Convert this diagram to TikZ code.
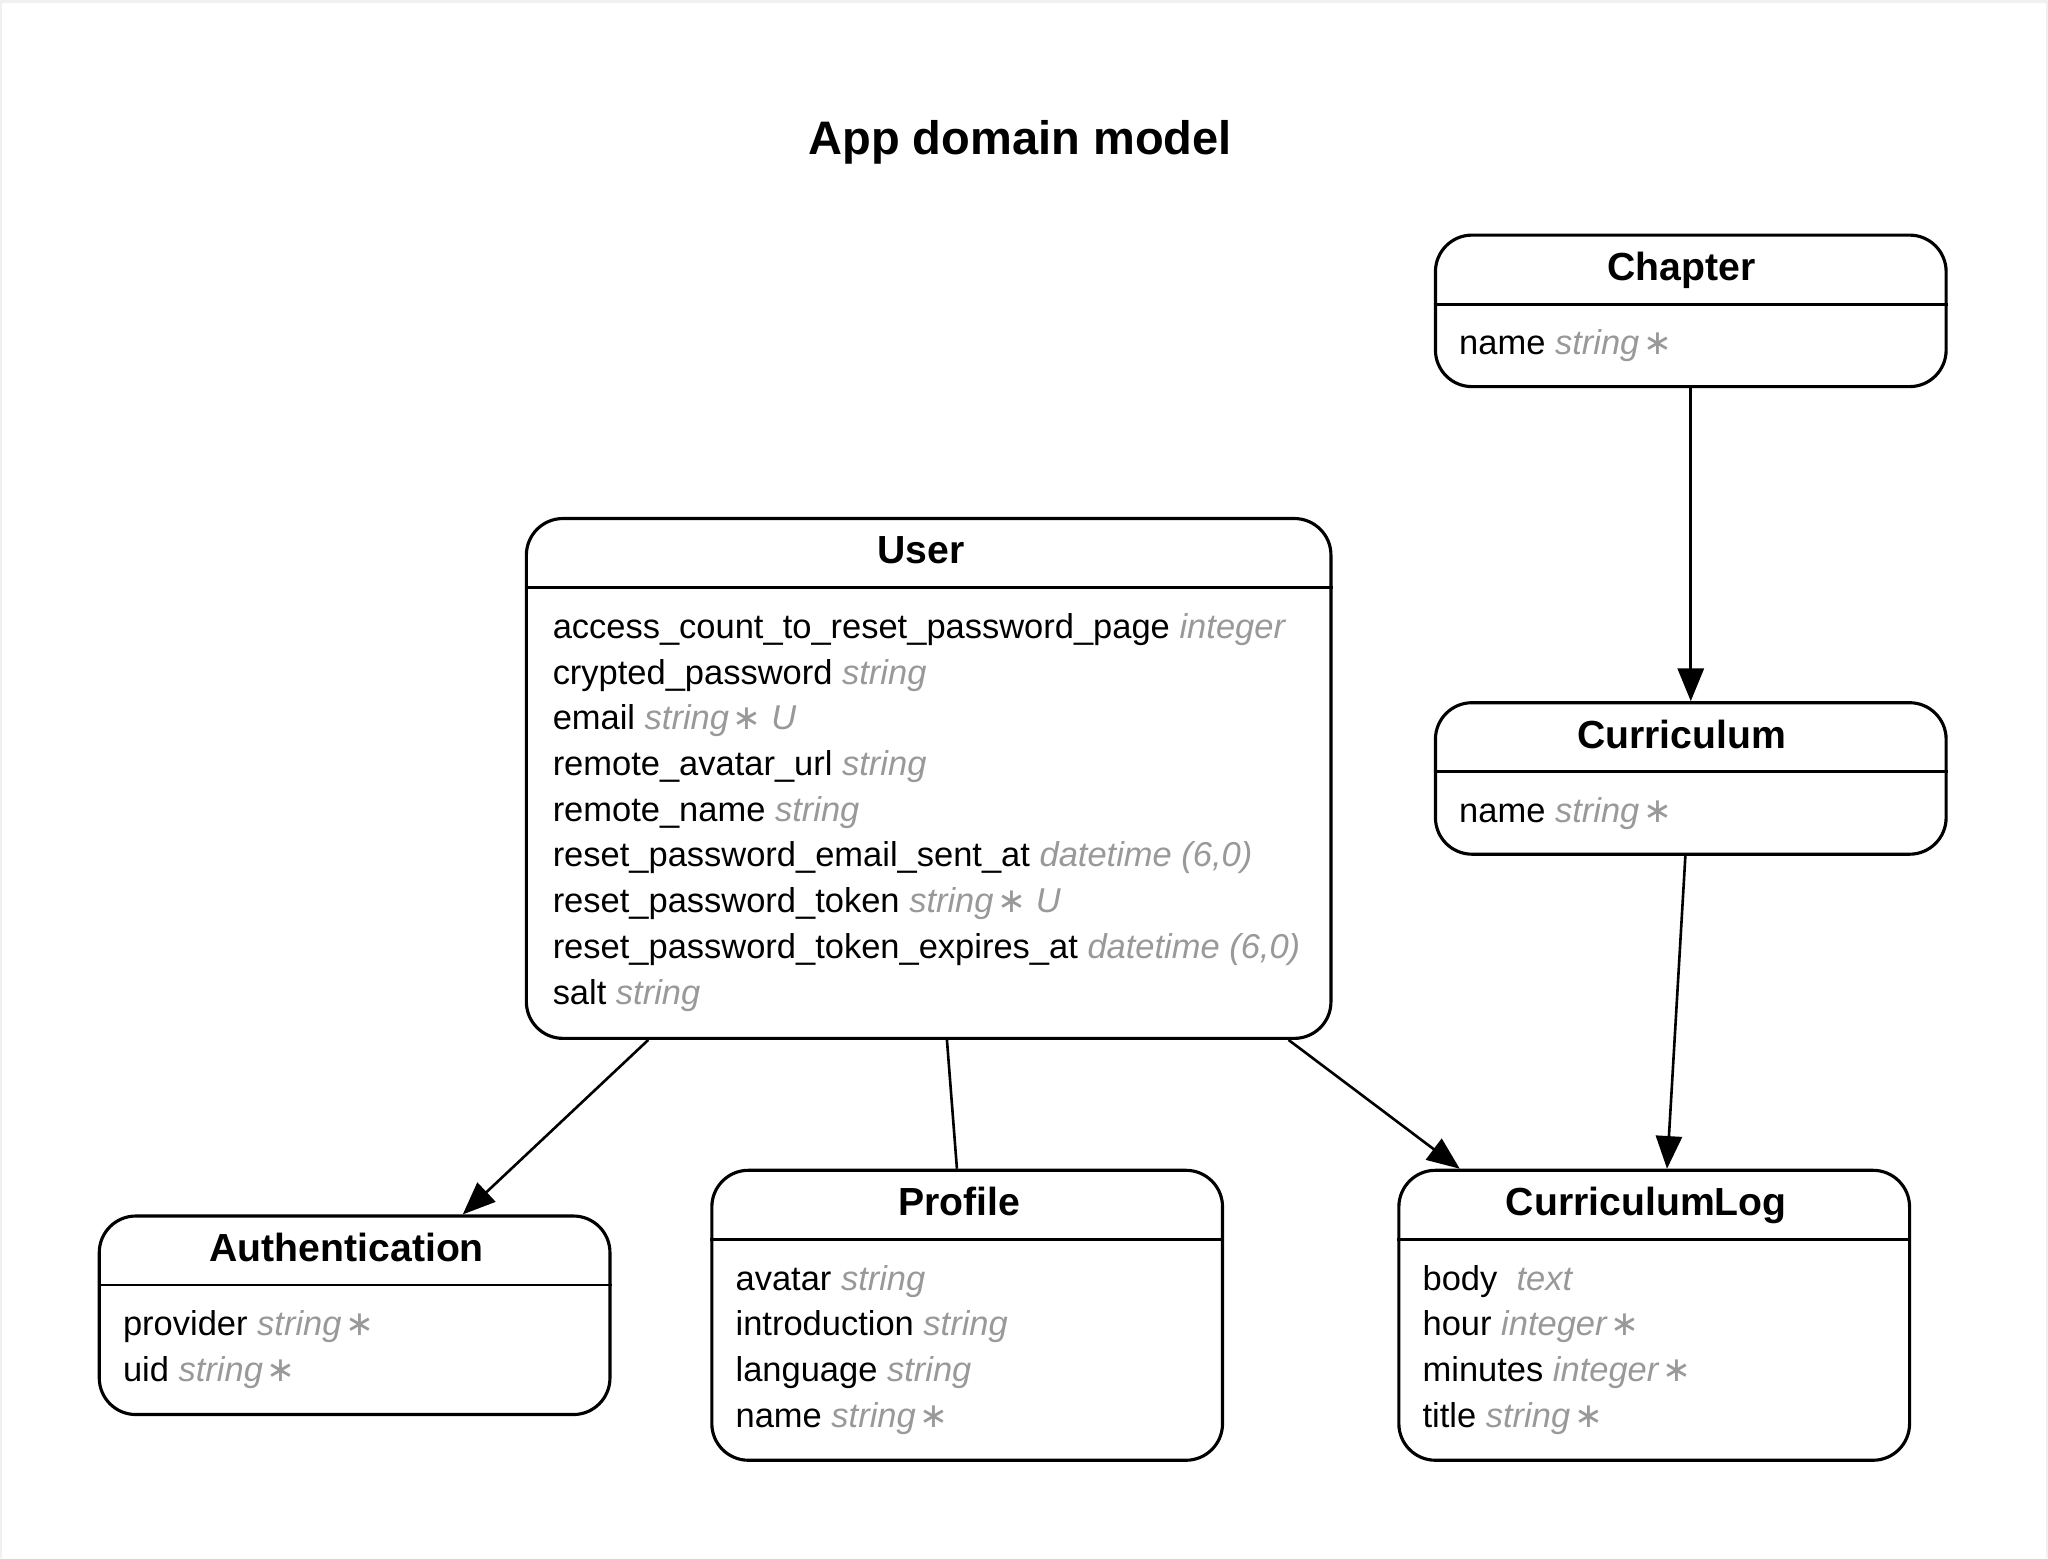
\documentclass[tikz,border=0pt]{standalone}
\usepackage{fontspec}
\setmainfont{Liberation Sans}
\newfontfamily\symfont{DejaVu Sans}
\usetikzlibrary{arrows.meta, calc}
\definecolor{typecol}{RGB}{153, 153, 153}
\definecolor{framecol}{RGB}{240, 240, 240}
\definecolor{linecol}{RGB}{0, 0, 0}
% one attribute row: column name, then its type in grey italics
\newcommand\fld[2]{\strut#1 {\color{typecol}\itshape #2}}
\newcommand\req{\kern1.5pt{\symfont\upshape ∗}}
\tikzset{
  entity/.style  = {draw=linecol, line width=1.2pt, rounded corners=14pt,
                    minimum width=195.5pt, inner sep=0pt},
  wide/.style    = {entity, minimum width=308pt},
  heading/.style = {font=\bfseries\fontsize{18}{22}\selectfont, anchor=base},
  etitle/.style  = {font=\bfseries\fontsize{15}{18}\selectfont, anchor=base,
                    inner sep=0pt},
  fields/.style  = {font=\fontsize{13.2}{17.5}\selectfont, align=left,
                    anchor=north west, inner sep=0pt},
  rule/.style    = {draw=linecol, line width=1.1pt},
  rel/.style     = {-{Triangle[length=12.5pt, width=10pt]}, draw=linecol,
                    line width=1pt},
  assoc/.style   = {draw=linecol, line width=1pt},
}

\begin{document}
\begin{tikzpicture}[x=0.5pt, y=-0.5pt]

  %% ---------------- page ----------------
  \fill[framecol] (0,0) rectangle (1568,1193);
  \fill[white] (1.5,2.5) rectangle (1566.5,1192.5);

  \node[heading] (title) at (781,118.5) {App domain model};

  %% ---------------- Chapter ----------------
  \node[entity, minimum height=58pt] (chapter) at (1294.5,238) {};
  \node[etitle] (chapterhd) at ($(chapter.north)+(-7,36)$) {Chapter};
  \draw[rule] ($(chapter.north west)+(0,54)$) -- ($(chapter.north east)+(0,54)$);
  \node[fields] (chapterfl) at ($(chapter.north west)+(19,68)$)
       {\fld{name}{string\req}};

  %% ---------------- Curriculum ----------------
  \node[entity, minimum height=58pt] (curriculum) at (1294.5,596) {};
  \node[etitle] (curriculumhd) at ($(curriculum.north)+(-7,36)$) {Curriculum};
  \draw[rule] ($(curriculum.north west)+(0,54)$) -- ($(curriculum.north east)+(0,54)$);
  \node[fields] (curriculumfl) at ($(curriculum.north west)+(19,68)$)
       {\fld{name}{string\req}};

  %% ---------------- User ----------------
  \node[wide, minimum height=199pt] (user) at (711,596) {};
  \node[etitle] (userhd) at ($(user.north)+(-6,36)$) {User};
  \draw[rule] ($(user.north west)+(0,54)$) -- ($(user.north east)+(0,54)$);
  \node[fields] (userfl) at ($(user.north west)+(21,68)$)
       {\fld{access\_count\_to\_reset\_password\_page}{integer}\\
        \fld{crypted\_password}{string}\\
        \fld{email}{string\req\ U}\\
        \fld{remote\_avatar\_url}{string}\\
        \fld{remote\_name}{string}\\
        \fld{reset\_password\_email\_sent\_at}{datetime (6,0)}\\
        \fld{reset\_password\_token}{string\req\ U}\\
        \fld{reset\_password\_token\_expires\_at}{datetime (6,0)}\\
        \fld{salt}{string}};

  %% ---------------- Authentication ----------------
  \node[entity, minimum height=76pt] (auth) at (271.5,1007) {};
  \node[etitle] (authhd) at ($(auth.north)+(-6,36)$) {Authentication};
  \draw[rule] ($(auth.north west)+(0,54)$) -- ($(auth.north east)+(0,54)$);
  \node[fields] (authfl) at ($(auth.north west)+(19,68)$)
       {\fld{provider}{string\req}\\
        \fld{uid}{string\req}};

  %% ---------------- Profile ----------------
  \node[entity, minimum height=111pt] (profile) at (740.5,1007) {};
  \node[etitle] (profilehd) at ($(profile.north)+(-6,36)$) {Profile};
  \draw[rule] ($(profile.north west)+(0,54)$) -- ($(profile.north east)+(0,54)$);
  \node[fields] (profilefl) at ($(profile.north west)+(19,68)$)
       {\fld{avatar}{string}\\
        \fld{introduction}{string}\\
        \fld{language}{string}\\
        \fld{name}{string\req}};

  %% ---------------- CurriculumLog ----------------
  \node[entity, minimum height=111pt] (clog) at (1266.5,1007) {};
  \node[etitle] (cloghd) at ($(clog.north)+(-6,36)$) {CurriculumLog};
  \draw[rule] ($(clog.north west)+(0,54)$) -- ($(clog.north east)+(0,54)$);
  \node[fields] (clogfl) at ($(clog.north west)+(19,68)$)
       {\fld{body}{\ text}\\
        \fld{hour}{integer\req}\\
        \fld{minutes}{integer\req}\\
        \fld{title}{string\req}};

  %% ---------------- relations ----------------
  \draw[rel]   (chapter) -- (curriculum);
  \draw[rel]   (curriculum.-94) -- (clog.85);
  \draw[rel]   (user.-137) -- (auth.43);
  \draw[assoc] (user.-86) -- (profile.94);
  \draw[rel]   (user.-36) -- (clog.143);

\end{tikzpicture}
\end{document}
